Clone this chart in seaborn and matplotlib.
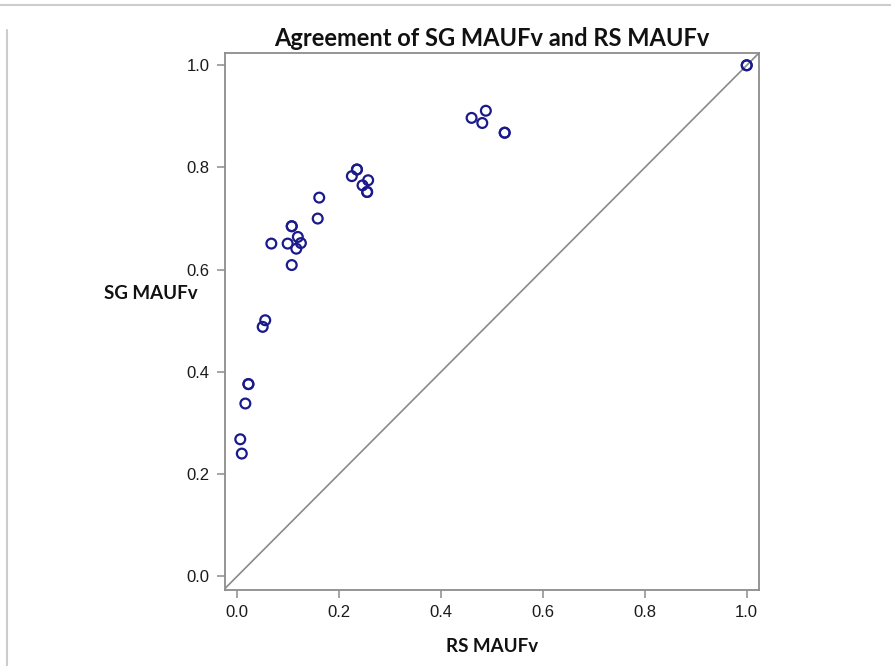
import matplotlib
matplotlib.use("Agg")
import matplotlib.pyplot as plt
from matplotlib.lines import Line2D
import seaborn as sns
import pandas as pd

# Data
rs_maufv = [1.000, 1.000, 0.460, 0.488, 0.481, 0.525, 0.525,
            0.225, 0.235, 0.235, 0.246, 0.257, 0.255, 0.255,
            0.161, 0.158, 0.107, 0.107, 0.067, 0.099, 0.119, 0.125, 0.116, 0.107,
            0.055, 0.050, 0.022, 0.022, 0.016, 0.006, 0.009]
sg_maufv = [1.000, 1.000, 0.897, 0.911, 0.887, 0.868, 0.868,
            0.783, 0.796, 0.796, 0.765, 0.775, 0.752, 0.752,
            0.741, 0.700, 0.685, 0.685, 0.651, 0.651, 0.664, 0.652, 0.641, 0.609,
            0.501, 0.488, 0.376, 0.376, 0.338, 0.268, 0.240]
tick_values = [0.0, 0.2, 0.4, 0.6, 0.8, 1.0]
tick_labels = ["0.0", "0.2", "0.4", "0.6", "0.8", "1.0"]

df = pd.DataFrame({"RS MAUFv": rs_maufv, "SG MAUFv": sg_maufv})

sns.set_theme(style="white")
plt.rcParams["font.family"] = ["Liberation Sans", "DejaVu Sans"]

fig = plt.figure(figsize=(8.91, 6.66), dpi=100)
ax = fig.add_axes([0.2525, 0.1141, 0.5993, 0.8063])

point_color = "#1a1a8c"
sns.scatterplot(data=df, x="RS MAUFv", y="SG MAUFv", ax=ax, marker="o", s=50,
                facecolor="none", edgecolor=point_color, linewidth=1.6, zorder=3)

ax.axline((0, 0), slope=1, color="#8a8a8a", linewidth=1.2, zorder=2)

ax.set_xlim(-0.024, 1.024)
ax.set_ylim(-0.027, 1.024)
ax.set_xticks(tick_values)
ax.set_xticklabels(tick_labels)
ax.set_yticks(tick_values)
ax.set_yticklabels(tick_labels)

for sp in ax.spines.values():
    sp.set_color("#8c8c8c")
    sp.set_linewidth(1.3)
ax.tick_params(axis="both", which="major", direction="out", length=6, width=1.1,
               color="#8c8c8c", labelsize=12, labelcolor="#1a1a1a", pad=5)
ax.tick_params(bottom=True, left=True)

ax.set_xlabel("RS MAUFv", family=["Lato", "DejaVu Sans"], fontweight="bold",
              fontsize=13.5, labelpad=13, color="#111111")
ax.set_ylabel("SG MAUFv", family=["Lato", "DejaVu Sans"], fontweight="bold",
              fontsize=13.5, rotation=0, ha="center", va="center", color="#111111")
ax.yaxis.set_label_coords(-0.139, 0.553)
ax.set_title("Agreement of SG MAUFv and RS MAUFv", family=["Lato", "DejaVu Sans"],
             fontweight="bold", fontsize=17, pad=5, color="#111111")

# screenshot frame lines
fig.add_artist(Line2D([0.0, 1.0], [0.992, 0.992], transform=fig.transFigure,
                      color="#cccccc", linewidth=1.5))
fig.add_artist(Line2D([0.008, 0.008], [0.0, 0.955], transform=fig.transFigure,
                      color="#cccccc", linewidth=1.5))

fig.savefig("out.png", dpi=100)
